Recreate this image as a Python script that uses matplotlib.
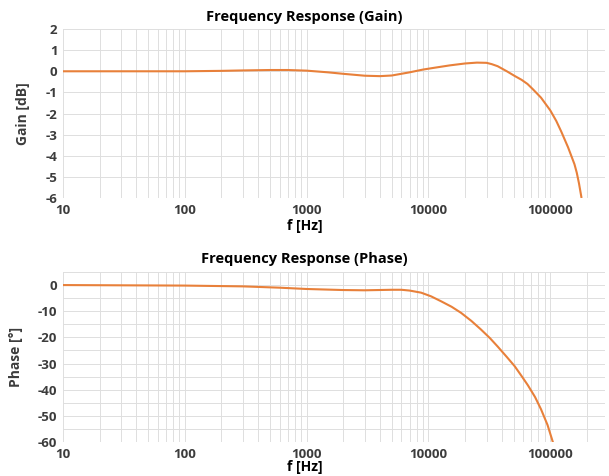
import numpy as np
import matplotlib
matplotlib.use("Agg")
import matplotlib.pyplot as plt
from matplotlib import ticker

plt.rcParams['font.family'] = ['Open Sans', 'DejaVu Sans']
plt.rcParams['axes.unicode_minus'] = False

# gain curve
freqGain = [10, 50, 100, 200, 300, 500, 700, 1000, 1500, 2000, 3000, 4000, 5000,
            7000, 9000, 11000, 15000, 20000, 25000, 30000, 33000, 37000, 44000,
            51000, 58000, 65000, 72000, 84000, 100000, 112000, 123000, 140000,
            158000, 165000, 172000, 180000]
gain = [0.0, 0.0, 0.0, 0.02, 0.04, 0.06, 0.06, 0.03, -0.05, -0.12, -0.21, -0.23,
        -0.2, -0.05, 0.08, 0.16, 0.28, 0.37, 0.41, 0.4, 0.34, 0.24, 0.0,
        -0.22, -0.4, -0.6, -0.85, -1.25, -1.85, -2.35, -2.85, -3.6, -4.4,
        -4.8, -5.3, -5.95]

# phase curve
freqPhase = [10, 100, 300, 600, 1000, 2000, 3000, 5000, 6000, 7000, 8700, 10500,
             12700, 15500, 18500, 22500, 27000, 32000, 37000, 44000, 51000, 58000,
             65500, 75000, 84000, 95000, 105000]
phase = [0.0, -0.2, -0.5, -1.0, -1.5, -1.9, -2.0, -1.8, -1.8, -2.1, -2.9, -4.3,
         -6.2, -8.3, -10.6, -13.7, -17.0, -20.3, -23.5, -27.5, -31.0, -34.7,
         -38.3, -42.8, -47.5, -53.5, -60.0]

xTicks = [10, 100, 1000, 10000, 100000]
xTickLabels = ['10', '100', '1000', '10000', '100000']

couleur = '#e8803a'
grille = '#dedede'
texte = '#3c3c3c'

fig = plt.figure(figsize=(6.09, 4.76), dpi=100)
axGain = fig.add_axes([0.1034, 0.584, 0.8896, 0.355])
axPhase = fig.add_axes([0.1034, 0.0714, 0.8896, 0.3572])


def styliser(ax, titre, ylabel, ylim, ypas, yTitre, yXlabel):
    ax.set_xscale('log')
    ax.set_xlim(10, 280000)
    ax.set_ylim(*ylim)
    ax.xaxis.set_major_locator(ticker.FixedLocator(xTicks))
    ax.xaxis.set_major_formatter(ticker.FixedFormatter(xTickLabels))
    ax.xaxis.set_minor_locator(ticker.LogLocator(base=10, subs=np.arange(2, 10)))
    ax.xaxis.set_minor_formatter(ticker.NullFormatter())
    ax.yaxis.set_major_locator(ticker.MultipleLocator(ypas))
    ax.grid(True, which='both', axis='x', color=grille, linewidth=0.7)
    ax.grid(True, which='major', axis='y', color=grille, linewidth=0.7)
    for s in ax.spines.values():
        s.set_visible(False)
    ax.tick_params(which='both', length=0, labelsize=9.5, labelcolor=texte, pad=4)
    for lab in ax.get_xticklabels() + ax.get_yticklabels():
        lab.set_fontweight('bold')
    # titre et label x centres sur la figure, comme dans l'original
    fig.text(0.5, yTitre, titre, fontsize=10.5, fontweight='bold', ha='center', va='center')
    fig.text(0.5, yXlabel, 'f [Hz]', fontsize=10, fontweight='bold', ha='center', va='center')
    ax.set_ylabel(ylabel, fontsize=10, fontweight='bold', color=texte, labelpad=11)


axGain.plot(freqGain, gain, color=couleur, linewidth=1.5)
styliser(axGain, 'Frequency Response (Gain)', 'Gain [dB]', (-6, 2), 1,
         1 - 17 / 476, 1 - 226 / 476)

axPhase.plot(freqPhase, phase, color=couleur, linewidth=1.5)
styliser(axPhase, 'Frequency Response (Phase)', 'Phase [°]', (-60, 5), 10,
         1 - 259 / 476, 1 - 467 / 476)
axPhase.yaxis.set_minor_locator(ticker.MultipleLocator(5))
axPhase.grid(True, which='minor', axis='y', color=grille, linewidth=0.7)
axPhase.set_yticks([0, -10, -20, -30, -40, -50, -60])

fig.savefig('out.png', dpi=100)
